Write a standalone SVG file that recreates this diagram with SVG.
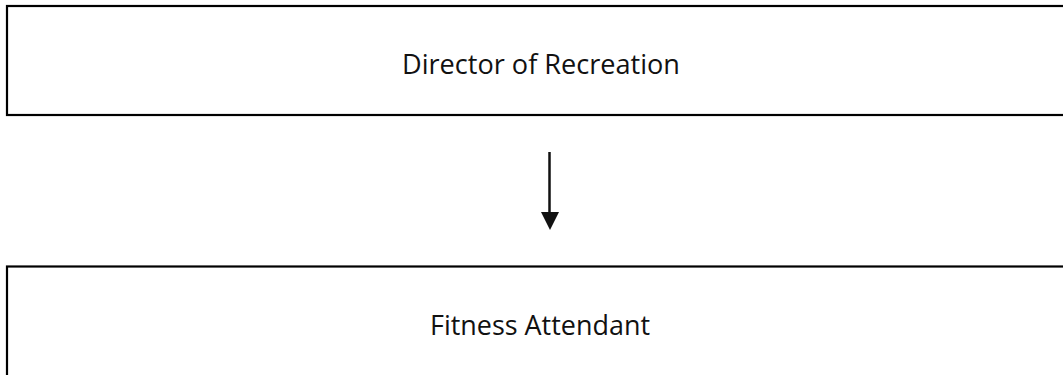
<svg xmlns="http://www.w3.org/2000/svg" width="1063" height="375" viewBox="0 0 1063 375">
<style>
.box{fill:#fff;stroke:#000;stroke-width:2.2}
.lbl{font-family:"Open Sans","Noto Sans",sans-serif;font-size:27px;fill:#111;text-anchor:middle}
.conn{stroke:#111;stroke-width:2.5;fill:none}
</style>
<defs>
<marker id="ah" markerWidth="9" markerHeight="9" refX="9" refY="4.5" orient="auto" markerUnits="userSpaceOnUse" viewBox="0 0 9 9">
<path d="M0,0 L9,4.5 L0,9 z" fill="#111"/>
</marker>
</defs>
<rect width="1063" height="375" fill="#fff"/>
<g id="node-director">
<rect class="box" x="7" y="6" width="1070" height="109"/>
<text class="lbl" x="541" y="74" textLength="278" lengthAdjust="spacingAndGlyphs">Director of Recreation</text>
</g>
<g id="node-fitness">
<rect class="box" x="7" y="266.5" width="1070" height="120"/>
<text class="lbl" x="540" y="335" textLength="220" lengthAdjust="spacingAndGlyphs">Fitness Attendant</text>
</g>
<g id="connectors">
<line class="conn" x1="549.5" y1="152" x2="549.5" y2="214"/>
<path d="M541,212 L559,212 L550,230 z" fill="#111"/>
</g>
</svg>
